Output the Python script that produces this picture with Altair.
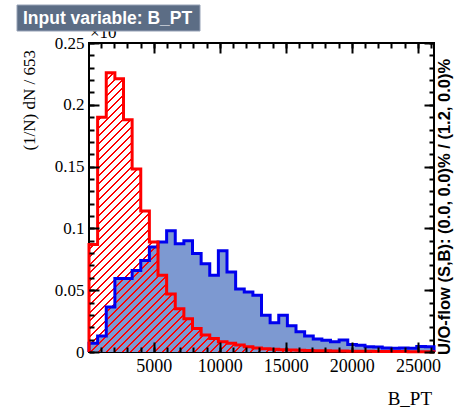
import altair as alt
import pandas as pd

# Histogram binning for B_PT
X_MIN = 100.0
BIN_WIDTH = 653.0
Y_MAX = 0.25

# Normalised bin contents, (1/N) dN (x10^-3 per bin width)
signal = [0.087, 0.190, 0.226, 0.221, 0.188, 0.148, 0.114, 0.089, 0.062, 0.047,
          0.035, 0.027, 0.019, 0.0137, 0.011, 0.0083, 0.0070, 0.0056, 0.0043, 0.0032,
          0.0026, 0.0022, 0.0019, 0.0017, 0.0015, 0.0013, 0.0011, 0.0010, 0.0009, 0.0008,
          0.0007, 0.0006, 0.0006, 0.0005, 0.0005, 0.0004, 0.0004, 0.0003, 0.0003, 0.0003]
background = [0.007, 0.013, 0.0365, 0.0594, 0.0594, 0.066, 0.074, 0.085, 0.089, 0.098,
              0.0876, 0.090, 0.0796, 0.0715, 0.062, 0.082, 0.0647, 0.051, 0.0486, 0.046,
              0.0298, 0.0236, 0.0298, 0.0212, 0.0164, 0.0129, 0.0105, 0.0095, 0.0083, 0.0097,
              0.0060, 0.0055, 0.0042, 0.0040, 0.0032, 0.0030, 0.0033, 0.0030, 0.0045, 0.0042]

X_MAJOR = [5000, 10000, 15000, 20000, 25000]
Y_MAJOR = [0, 0.05, 0.1, 0.15, 0.2, 0.25]

TITLE = "Input variable: B_PT"
Y_TITLE = "(1/N) dN / 653"
X_TITLE = "B_PT"
FLOW_TEXT = "U/O-flow (S,B): (0.0, 0.0)% / (1.2, 0.0)%"
EXPONENT = "\u00d710"

PLOT_W, PLOT_H = 345, 309
SERIF = "Liberation Serif"
SANS = "Liberation Sans"

n_bins = len(signal)
edges = [X_MIN + i * BIN_WIDTH for i in range(n_bins + 1)]
X_MAX = edges[-1]
x_minor = [v for v in range(1000, 27000, 1000) if X_MIN <= v <= X_MAX]
y_minor = [round(0.01 * k, 2) for k in range(26)]

x_scale = alt.Scale(domain=[X_MIN, X_MAX], nice=False, zero=False)
y_scale = alt.Scale(domain=[0, Y_MAX], nice=False, zero=True)


def fill_rows(vals):
    return pd.DataFrame({"x": edges, "y": vals + vals[-1:]})


def outline_rows(vals):
    xs = edges[:1] + edges
    ys = [0.0] + vals + [0.0]
    return pd.DataFrame({"x": xs, "y": ys, "k": list(range(len(xs)))})


def axis(orient, values, size, labels=False, **kw):
    # ticks drawn inward from the frame: shift the axis inside by its tick length
    return alt.Axis(orient=orient, values=values, tickSize=size, offset=-size,
                    domain=False, grid=False, labels=labels, title=None,
                    tickColor="black", tickWidth=2, zindex=1,
                    labelFlush=False, labelOverlap=False, **kw)


x_lab = dict(labelFont=SERIF, labelFontSize=18, labelColor="black",
             labelPadding=5, format="d")
y_lab = dict(labelFont=SERIF, labelFontSize=17, labelColor="black",
             labelPadding=5, format="~g")

# hatch for the signal: 45 degree stripes built as a hard-stop linear gradient
W = float(PLOT_W)
H = max(signal) / Y_MAX * PLOT_H
S = W * W + H * H
period = 8.0
line_w = 2.2
dt = period / (W + H)
stops = []
t = 0.0
clear = "rgba(255,0,0,0)"
while t < 1.0:
    a, b = t, min(t + line_w / (W + H), 1.0)
    stops += [alt.GradientStop(color=clear, offset=a), alt.GradientStop(color="#ff0000", offset=a),
              alt.GradientStop(color="#ff0000", offset=b), alt.GradientStop(color=clear, offset=b)]
    t += dt
hatch = alt.LinearGradient(gradient="linear", stops=stops, x1=0, y1=0,
                           x2=W * (W + H) / S, y2=H * (W + H) / S)

bkg_fill = alt.Chart(fill_rows(background)).mark_area(
    interpolate="step-after", color="#7d99d1", opacity=1
).encode(
    x=alt.X("x:Q", scale=x_scale, axis=axis("bottom", X_MAJOR, 10, True, **x_lab)),
    y=alt.Y("y:Q", scale=y_scale, axis=axis("left", Y_MAJOR, 10, True, **y_lab)),
)

sig_fill = alt.Chart(fill_rows(signal)).mark_area(
    interpolate="step-after", fill=hatch, opacity=1
).encode(
    x=alt.X("x:Q", scale=x_scale, axis=axis("bottom", x_minor, 5)),
    y=alt.Y("y:Q", scale=y_scale, axis=axis("left", y_minor, 5)),
)

bkg_line = alt.Chart(outline_rows(background)).mark_line(
    interpolate="step-after", color="#0000ee", strokeWidth=3
).encode(
    x=alt.X("x:Q", scale=x_scale, axis=axis("top", X_MAJOR, 10)),
    y=alt.Y("y:Q", scale=y_scale, axis=axis("right", Y_MAJOR, 10)),
    order="k:Q",
)

sig_line = alt.Chart(outline_rows(signal)).mark_line(
    interpolate="step-after", color="#ff0000", strokeWidth=3
).encode(
    x=alt.X("x:Q", scale=x_scale, axis=axis("top", x_minor, 5)),
    y=alt.Y("y:Q", scale=y_scale, axis=axis("right", y_minor, 5)),
    order="k:Q",
)


def text_layer(text, x, y, **kw):
    return alt.Chart(pd.DataFrame({"t": [text]})).mark_text(**kw).encode(
        x=alt.value(x), y=alt.value(y), text="t:N")


exponent = text_layer(EXPONENT, 1, -5, font=SERIF, fontSize=17, align="left",
                      baseline="alphabetic", color="black")
title_box = alt.Chart(pd.DataFrame({"t": [TITLE]})).mark_rect(
    color="#5c6d85", stroke="#96a2b6", strokeWidth=1
).encode(x=alt.value(-72), x2=alt.value(111), y=alt.value(-38), y2=alt.value(-12))
title_text = text_layer(TITLE, -66, -19, font=SANS, fontSize=17.5, fontWeight="bold",
                        align="left", baseline="alphabetic", color="white")
y_title = text_layer(Y_TITLE, -59, 7, font=SERIF, fontSize=17, angle=270,
                     align="right", baseline="middle", color="black")
x_title = text_layer(X_TITLE, 343, 362, font=SERIF, fontSize=19, align="right",
                     baseline="alphabetic", color="black")
flow = text_layer(FLOW_TEXT, 361, 312, font=SANS, fontSize=16.5, fontWeight="bold",
                  angle=270, align="left", baseline="alphabetic", color="black")

chart = alt.layer(
    bkg_fill, sig_fill, bkg_line, sig_line,
    exponent, title_box, title_text, y_title, x_title, flow,
).resolve_axis(
    x="independent", y="independent"
).properties(
    width=PLOT_W, height=PLOT_H,
    padding={"left": 89, "top": 43, "right": 20, "bottom": 60},
    autosize=alt.AutoSizeParams(type="none"),
    background="white",
).configure_view(stroke="black", strokeWidth=2)

chart.save("out.html", embed_options={"renderer": "svg", "actions": False})
